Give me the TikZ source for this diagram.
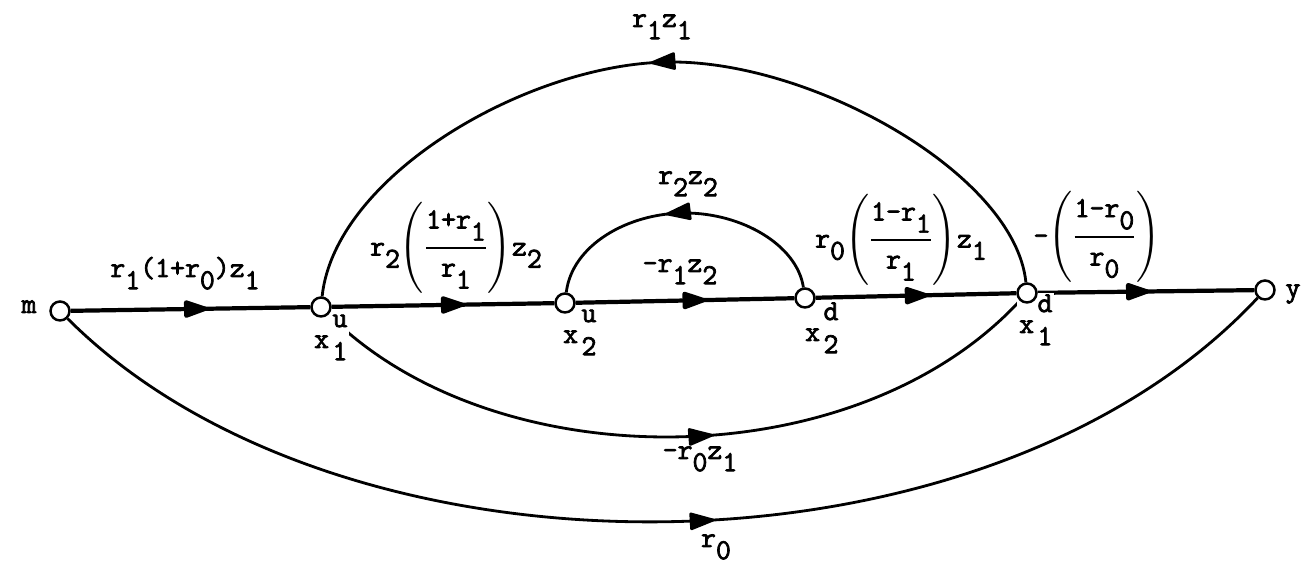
\documentclass[tikz,border=0pt]{standalone}
\usepackage{fontspec}
\usepackage{amsmath}
\newfontfamily\twfont{Latin Modern Mono}[BoldFont={Latin Modern Mono},BoldFeatures={FakeBold=2.5}]
\usetikzlibrary{arrows.meta,decorations.markings}
\pgfdeclarelayer{edges}
\pgfsetlayers{edges,main}
\newcommand{\lo}[1]{\raisebox{-0.42em}{#1}}
\newcommand{\hi}[1]{\raisebox{0.72em}{#1}}
\newcommand{\xnode}[2]{x\kern0.12em\rlap{\hi{#1}}\lo{#2}}
\newcommand{\pfrac}[2]{$\left(\genfrac{}{}{1.2pt}{0}{\mbox{#1}}{\mbox{#2}}\right)$}
\tikzset{
  lbl/.style={font=\fontsize{16.5}{19}\selectfont\twfont\bfseries, inner sep=1pt, text=black},
  vtx/.style={circle, draw, fill=white, line width=1.4pt, minimum size=0.38cm, inner sep=0pt},
  mainln/.style={line width=2.4pt},
  arcln/.style={line width=1.6pt},
  midarrow/.style={postaction={decorate}, decoration={markings, mark=at position #1 with {\arrow{Triangle[length=0.56cm,width=0.36cm,round]}}}}
}
\begin{document}
\begin{tikzpicture}[x=0.02cm,y=-0.02cm]
\useasboundingbox (0,0) rectangle (1303,567);
% vertex labels
\node[lbl, anchor=base] (lm) at (29,313) {m};
\node[lbl, anchor=base] (ly) at (1293,297) {y};
\node[lbl, anchor=base west, fill=white] (lx1u) at (312,348) {\xnode{u}{1}};
\node[lbl, anchor=base west, fill=white] (lx2u) at (561,343) {\xnode{u}{2}};
\node[lbl, anchor=base west, fill=white] (lx2d) at (803,341) {\xnode{d}{2}};
\node[lbl, anchor=base west, fill=white] (lx1d) at (1017,333) {\xnode{d}{1}};
% edge labels
\node[lbl, anchor=base] (e1) at (185,277) {r\lo{1}(1+r\lo{0})z\lo{1}};
\node[lbl] (e2) at (456,248) {r\lo{2}\pfrac{1+r\lo{1}}{r\lo{1}}z\lo{2}};
\node[lbl, anchor=base] (e3) at (680,272) {-r\lo{1}z\lo{2}};
\node[lbl] (e4) at (901,240) {r\lo{0}\pfrac{1-r\lo{1}}{r\lo{1}}z\lo{1}};
\node[lbl] (e5) at (1097,237) {-\pfrac{1-r\lo{0}}{r\lo{0}}};
\node[lbl, anchor=base] (e6) at (662,27) {r\lo{1}z\lo{1}};
\node[lbl, anchor=base] (e7) at (688,184) {r\lo{2}z\lo{2}};
\node[lbl, anchor=base] (e8) at (700,459) {-r\lo{0}z\lo{1}};
\node[lbl, anchor=base] (e9) at (716,547) {r\lo{0}};
% vertices
\node[vtx] (m) at (60,311) {};
\node[vtx] (x1u) at (321,307) {};
\node[vtx] (x2u) at (565,303) {};
\node[vtx] (x2d) at (805,298) {};
\node[vtx] (x1d) at (1027,293) {};
\node[vtx] (y) at (1265,290) {};
\coordinate (top) at (672,62);
\coordinate (stop) at (685,213);
\begin{pgfonlayer}{edges}
\fill[white] (0,0) rectangle (1303,567);
% main line
\draw[mainln, midarrow=0.57] (m) -- (x1u);
\draw[mainln, midarrow=0.595] (x1u) -- (x2u);
\draw[mainln, midarrow=0.595] (x2u) -- (x2d);
\draw[mainln, midarrow=0.56] (x2d) -- (x1d);
\draw[mainln, midarrow=0.515] (x1d) -- (y);
% arcs
\draw[arcln, midarrow=0.52] (x1d) .. controls (1015,175) and (815,62) .. (top) .. controls (530,62) and (335,175) .. (x1u);
\draw[arcln, midarrow=0.555] (x2d) .. controls (797,245) and (742,213) .. (stop) .. controls (628,213) and (572,245) .. (x2u);
\draw[arcln, midarrow=0.548] (x1u) .. controls (494,480) and (854,480) .. (x1d);
\draw[arcln, midarrow=0.537] (m) .. controls (342,593) and (982,593) .. (y);
\end{pgfonlayer}
\end{tikzpicture}
\end{document}
